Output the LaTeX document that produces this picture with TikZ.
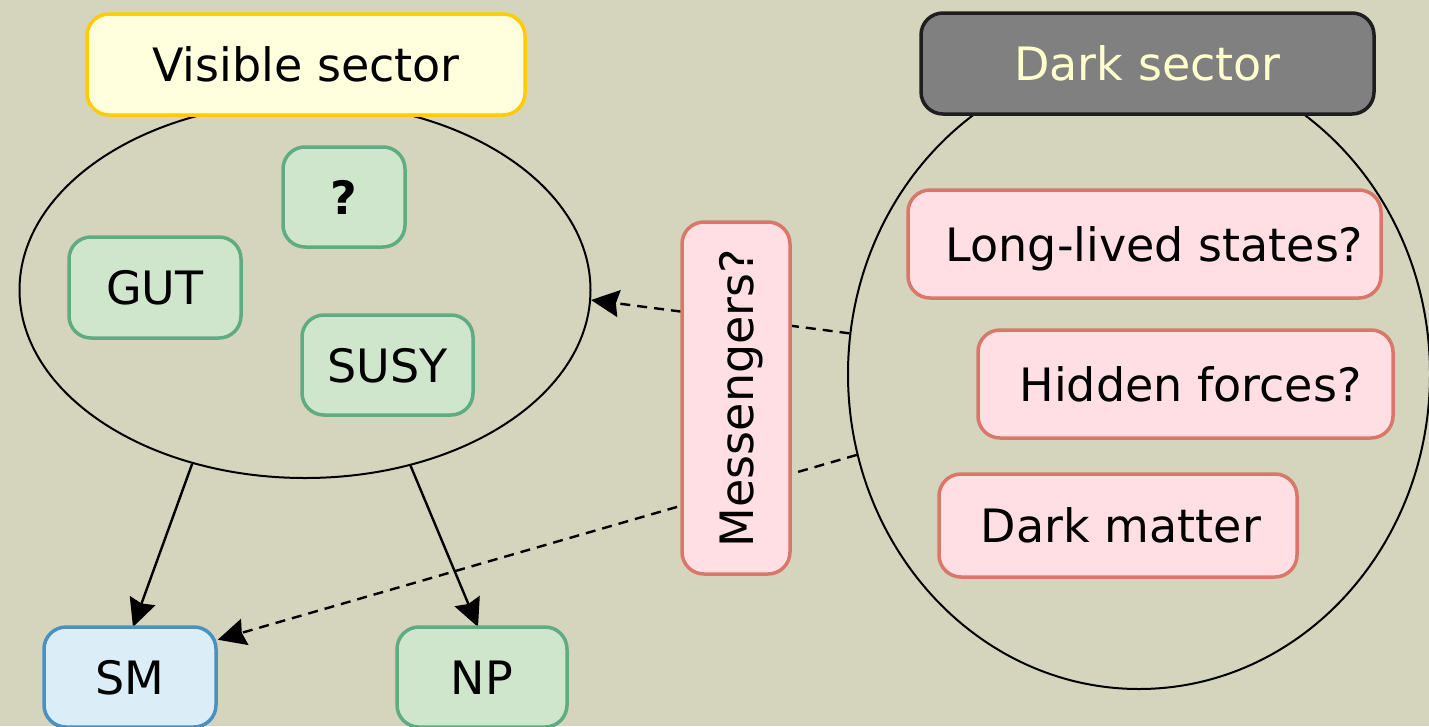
\documentclass[tikz,border=0pt]{standalone}
\usepackage{fontspec}
\setmainfont{DejaVu Sans}
\usetikzlibrary{shapes.geometric,arrows.meta}
\definecolor{bg}{RGB}{213,213,189}
\definecolor{visfill}{RGB}{255,255,221}
\definecolor{visborder}{RGB}{255,204,0}
\definecolor{darkfill}{RGB}{128,128,128}
\definecolor{darkborder}{RGB}{30,30,30}
\definecolor{darktext}{RGB}{255,255,204}
\definecolor{gfill}{RGB}{207,230,205}
\definecolor{gborder}{RGB}{95,172,130}
\definecolor{bfill}{RGB}{219,238,248}
\definecolor{bborder}{RGB}{74,144,192}
\definecolor{pfill}{RGB}{255,223,227}
\definecolor{pborder}{RGB}{217,119,107}
\begin{document}
\begin{tikzpicture}[x=1pt,y=-1pt,
  box/.style={rectangle,rounded corners=22pt,line width=3.5pt,inner sep=0pt,
    text height=34pt,text depth=0pt,font=\fontsize{46}{55}\selectfont},
  greenbox/.style={box,draw=gborder,fill=gfill},
  bluebox/.style={box,draw=bborder,fill=bfill},
  pinkbox/.style={box,draw=pborder,fill=pfill},
  ell/.style={ellipse,draw=black,line width=2pt,inner sep=0pt},
  arr/.style={line width=2.4pt,-{Stealth[length=28pt,width=27pt,inset=3pt]}},
  darr/.style={arr,dash pattern=on 10pt off 7pt}]
\useasboundingbox (0,0) rectangle (1429,726);
\fill[bg] (0,0) rectangle (1429,726);
% ellipses
\node[ell,minimum width=571,minimum height=376] (vell) at (305,290) {};
\node[ell,minimum width=582,minimum height=630] (dell) at (1139,374) {};
% connectors
\draw[arr] (vell.237.8) -- (133,627) coordinate (smtop);
\draw[arr] (vell.301.7) -- (478,627) coordinate (nptop);
\draw[darr] (dell.172.8) -- (vell.-2.6);
% boxes
\node[box,draw=visborder,fill=visfill,minimum width=438,minimum height=101] (vis) at (306,64.5) {Visible sector};
\node[box,draw=darkborder,fill=darkfill,text=darktext,minimum width=453,minimum height=101] (dark) at (1147.5,63.5) {Dark sector};
\node[greenbox,minimum width=122,minimum height=100,font=\fontsize{46}{55}\selectfont\bfseries] (q) at (344,197) {?};
\node[greenbox,minimum width=172,minimum height=101] (gut) at (155,287.5) {GUT};
\node[greenbox,minimum width=171,minimum height=100] (susy) at (387.5,365) {SUSY};
\node[bluebox,minimum width=172,minimum height=100] (sm) at (130,677) {SM};
\node[greenbox,minimum width=170,minimum height=100] (np) at (482,677) {NP};
\draw[darr] (dell.196.7) -- (sm.23.5);
\node[pinkbox,rotate=90,minimum width=352,minimum height=108] (msg) at (736,398) {Messengers?};
\node[pinkbox,minimum width=473,minimum height=108] (long) at (1144.5,244) {\hspace*{20pt}Long-lived states?};
\node[pinkbox,minimum width=415,minimum height=108] (hid) at (1185.5,384) {\hspace*{10pt}Hidden forces?};
\node[pinkbox,minimum width=358,minimum height=103] (dm) at (1118,525.5) {\hspace*{6pt}Dark matter};
\end{tikzpicture}
\end{document}
